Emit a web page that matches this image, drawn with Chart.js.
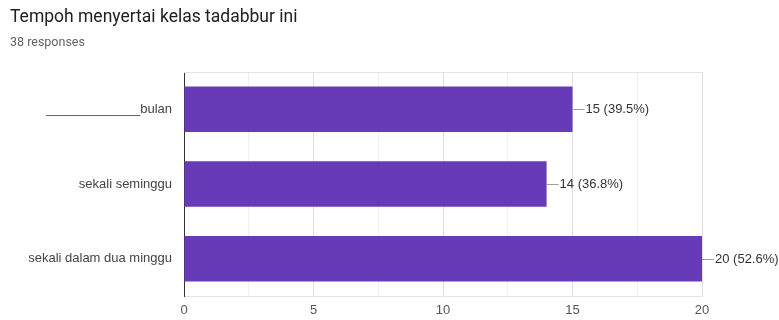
<!DOCTYPE html>
<html>
<head>
<meta charset="utf-8">
<script src="https://cdn.jsdelivr.net/npm/chart.js@4"></script>
<style>
  html, body { margin: 0; padding: 0; background: #fff; }
  #wrap { width: 779px; height: 320px; }
</style>
</head>
<body>
<div id="wrap"><canvas id="grafico" width="779" height="320"></canvas></div>
<script>
// data
const judul = "Tempoh menyertai kelas tadabbur ini";
const jumlahRespons = 38;
const kategori = ["_____________bulan", "sekali seminggu", "sekali dalam dua minggu"];
const nilai = [15, 14, 20];
const tickMajor = [0, 5, 10, 15, 20];

const ungu = "rgb(103, 58, 183)";
const fontLabel = "'Liberation Sans', Arial, sans-serif";

// leader line + "n (x%)" next to each bar, plus the top border of the plot area
const labelBar = {
  id: "labelBar",
  afterDatasetsDraw(chart) {
    const ctx = chart.ctx;
    const area = chart.chartArea;
    ctx.save();
    ctx.strokeStyle = "#e3e3e3";
    ctx.lineWidth = 1;
    ctx.beginPath();
    ctx.moveTo(area.left, area.top + 0.5);
    ctx.lineTo(area.right, area.top + 0.5);
    ctx.stroke();

    const meta = chart.getDatasetMeta(0);
    ctx.font = `13px ${fontLabel}`;
    ctx.textBaseline = "middle";
    ctx.textAlign = "left";
    meta.data.forEach((bar, i) => {
      const v = nilai[i];
      const pct = (v / jumlahRespons * 100).toFixed(1);
      const y = Math.round(bar.y) + 0.5;
      ctx.strokeStyle = "#9e9e9e";
      ctx.beginPath();
      ctx.moveTo(bar.x, y);
      ctx.lineTo(bar.x + 12, y);
      ctx.stroke();
      ctx.fillStyle = "#333";
      ctx.fillText(`${v} (${pct}%)`, bar.x + 13, y);
    });
    ctx.restore();
  }
};

new Chart(document.getElementById("grafico").getContext("2d"), {
  type: "bar",
  data: {
    labels: kategori,
    datasets: [{
      data: nilai,
      backgroundColor: ungu,
      borderWidth: 0,
      categoryPercentage: 1,
      barPercentage: 0.61
    }]
  },
  options: {
    indexAxis: "y",
    responsive: false,
    animation: false,
    layout: { padding: { top: 7, left: 10, right: 77, bottom: 0 } },
    plugins: {
      legend: { display: false },
      tooltip: { enabled: false },
      title: {
        display: true,
        text: judul,
        align: "start",
        color: "#202124",
        font: { family: "Roboto, 'Liberation Sans', sans-serif", size: 17.5, weight: "normal" },
        padding: { top: 0, bottom: 7 }
      },
      subtitle: {
        display: true,
        text: `${jumlahRespons} responses`,
        align: "start",
        color: "#5f6368",
        font: { family: "Roboto, 'Liberation Sans', sans-serif", size: 12.5 },
        padding: { top: 0, bottom: 22 }
      }
    },
    scales: {
      x: {
        min: 0,
        max: 20,
        afterFit(scale) { scale.height = 24; },
        ticks: {
          stepSize: 2.5,
          color: "#555",
          font: { family: fontLabel, size: 13 },
          padding: 7,
          maxRotation: 0,
          callback: v => tickMajor.includes(v) ? String(v) : ""
        },
        grid: {
          color: c => (c.tick && c.tick.value % 5 === 0) ? "#dedede" : "#efefef",
          drawTicks: false
        },
        border: { display: true, color: "#e3e3e3" }
      },
      y: {
        afterFit(scale) { scale.width = 174; },
        ticks: {
          color: "#444",
          font: { family: fontLabel, size: 13 },
          padding: 12
        },
        grid: { display: false, drawTicks: false },
        border: { display: true, color: "#333", width: 1 }
      }
    }
  },
  plugins: [labelBar]
});
</script>
</body>
</html>
